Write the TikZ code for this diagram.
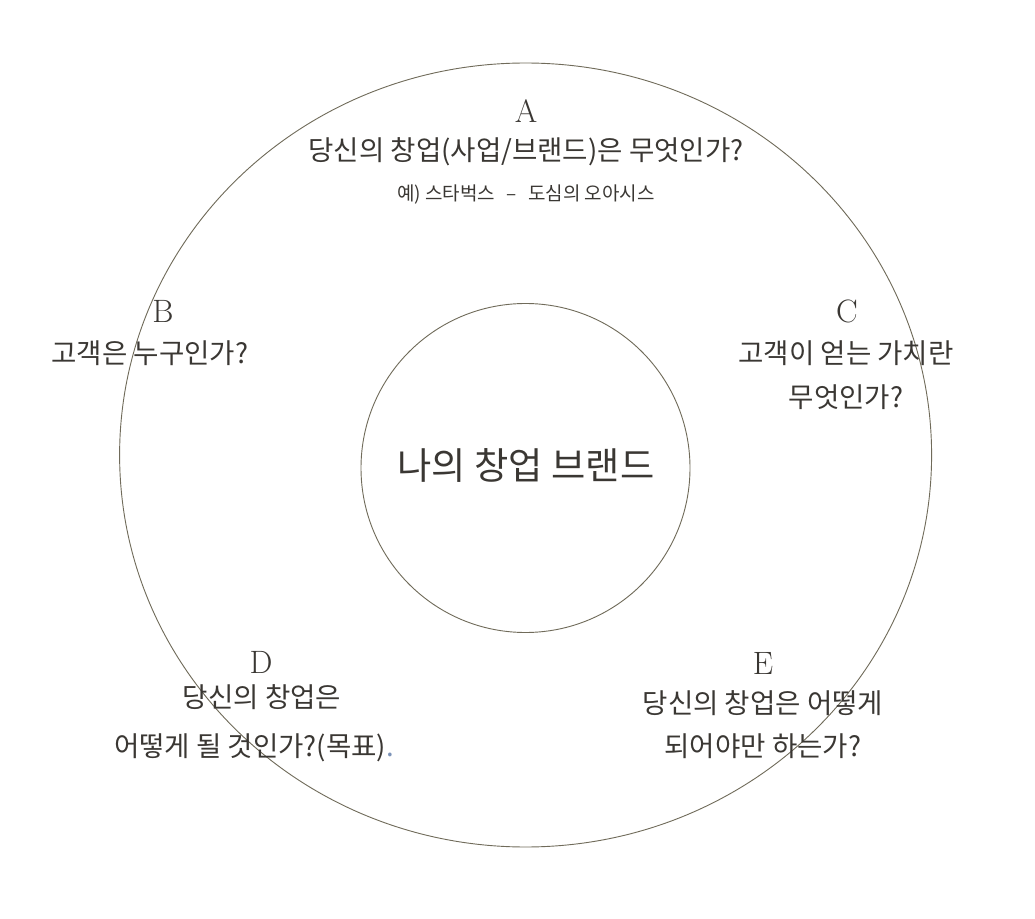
\documentclass[tikz,border=0pt]{standalone}
\usepackage{fontspec}
\newfontfamily\kr{Noto Sans CJK KR}
\definecolor{ink}{HTML}{3A3733}
\definecolor{rim}{HTML}{706B5A}
\definecolor{dotblue}{HTML}{7C93B8}

\tikzset{
  letter/.style={text=ink, inner sep=0pt, font=\fontsize{23}{27}\selectfont},
  ques/.style={text=ink, inner sep=0pt, font=\kr\fontsize{19.6}{23}\selectfont},
  note/.style={text=ink, inner sep=0pt, font=\kr\fontsize{13.5}{16}\selectfont},
  core/.style={text=ink, inner sep=0pt, font=\kr\fontsize{26.5}{30}\selectfont}
}

\begin{document}
\begin{tikzpicture}[x=0.025cm,y=-0.025cm]
  \useasboundingbox (0,0) rectangle (1035,919);
  % the two rings
  \draw[rim, line width=0.65pt] (525.6,455) ellipse [x radius=406, y radius=392];
  \draw[rim, line width=0.65pt] (525.5,468) circle [radius=164.5];
  \node[core] (brand) at (526,465) {나의 창업 브랜드};
  % A
  \node[letter] (a) at (526,111) {A};
  \node[ques] (qa) at (526,152) {당신의 창업(사업/브랜드)은 무엇인가?};
  \node[note] (ex) at (526,195) {예) 스타벅스\hspace{0.6em}–\hspace{0.6em}도심의 오아시스};
  % B
  \node[letter] (b) at (163,311) {B};
  \node[ques] (qb) at (150,353) {고객은 누구인가?};
  % C
  \node[letter] (c) at (847,311) {C};
  \node[ques] (qc1) at (846,353) {고객이 얻는 가치란};
  \node[ques] (qc2) at (846,397) {무엇인가?};
  % D
  \node[letter] (d) at (261,662) {D};
  \node[ques] (qd1) at (262,697) {당신의 창업은};
  \node[ques] (qd2) at (254,748) {어떻게 될 것인가?(목표){\color{dotblue}.}};
  % E
  \node[letter] (e) at (763,663) {E};
  \node[ques] (qe1) at (763,703) {당신의 창업은 어떻게};
  \node[ques] (qe2) at (763,746) {되어야만 하는가?};
\end{tikzpicture}
\end{document}
